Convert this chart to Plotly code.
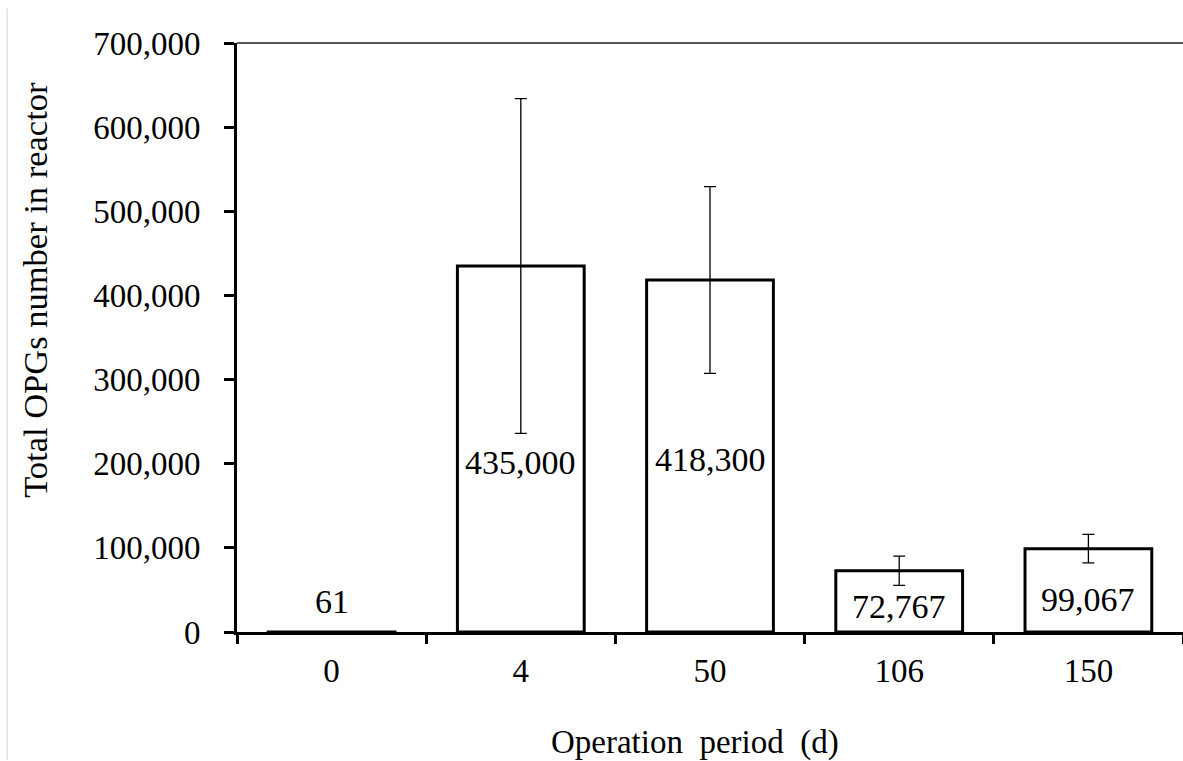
import plotly.graph_objects as go

# Operation period categories and OPG counts
periods = ["0", "4", "50", "106", "150"]
opg_mean = [61, 435000, 418300, 72767, 99067]
opg_err = [0, 199000, 111000, 17400, 16900]

# vertical placement of each value label (data units)
label_y = [36000, 201000, 205000, 30500, 38500]

y_ticks = [0, 100000, 200000, 300000, 400000, 500000, 600000, 700000]

FONT = "Liberation Serif"
FS = 33

fig = go.Figure()
fig.add_trace(go.Bar(
    x=periods,
    y=opg_mean,
    marker=dict(color="white", line=dict(color="black", width=3)),
    error_y=dict(type="data", array=opg_err, visible=True,
                 color="black", thickness=1.3, width=6),
    showlegend=False,
    hoverinfo="x+y",
))

# value labels, placed by category index
for i, (v, ly) in enumerate(zip(opg_mean, label_y)):
    fig.add_annotation(x=i, y=ly, xref="x", yref="y", text=f"{v:,}", showarrow=False,
                       font=dict(family=FONT, size=34, color="black"),
                       xanchor="center", yanchor="middle")

# axis titles
fig.add_annotation(x=0.484, y=-0.188, xref="paper", yref="paper",
                   text="Operation  period  (d)", showarrow=False,
                   font=dict(family=FONT, size=33, color="black"),
                   xanchor="center", yanchor="middle")
fig.add_annotation(x=-0.2135, y=0.581, xref="paper", yref="paper",
                   text="Total OPGs number in reactor", showarrow=False, textangle=-90,
                   font=dict(family=FONT, size=34.5, color="black"),
                   xanchor="center", yanchor="middle")

# thin frame line along the top of the plot area
fig.add_shape(type="line", xref="paper", yref="paper", x0=0, x1=1, y0=1, y1=1,
              line=dict(color="#222", width=1.5))
# faint page edge on the left
fig.add_shape(type="line", xref="paper", yref="paper", x0=-0.243, x1=-0.243,
              y0=-0.217, y1=1.059, line=dict(color="#d0d0d0", width=1))

fig.update_layout(
    width=1183, height=761,
    margin=dict(l=237, r=0, t=43, b=129),
    paper_bgcolor="white", plot_bgcolor="white",
    font=dict(family=FONT, size=FS, color="black"),
    bargap=0.33,
    xaxis=dict(
        type="category",
        categoryorder="array", categoryarray=periods,
        range=[-0.5, len(periods) - 0.5],
        showline=True, linecolor="black", linewidth=3,
        ticks="outside", tickson="boundaries", ticklen=9, tickwidth=3,
        tickcolor="black",
        tickfont=dict(family=FONT, size=FS),
        tickangle=0,
        ticklabelstandoff=7,
        showgrid=False, zeroline=False,
    ),
    yaxis=dict(
        range=[0, 700000],
        tickvals=y_ticks,
        ticktext=[f"{t:,}" for t in y_ticks],
        showline=True, linecolor="black", linewidth=3,
        ticks="outside", ticklen=10, tickwidth=3, tickcolor="black",
        tickfont=dict(family=FONT, size=FS),
        ticklabelstandoff=17,
        showgrid=False, zeroline=False,
    ),
)

fig.write_html("out.html")
